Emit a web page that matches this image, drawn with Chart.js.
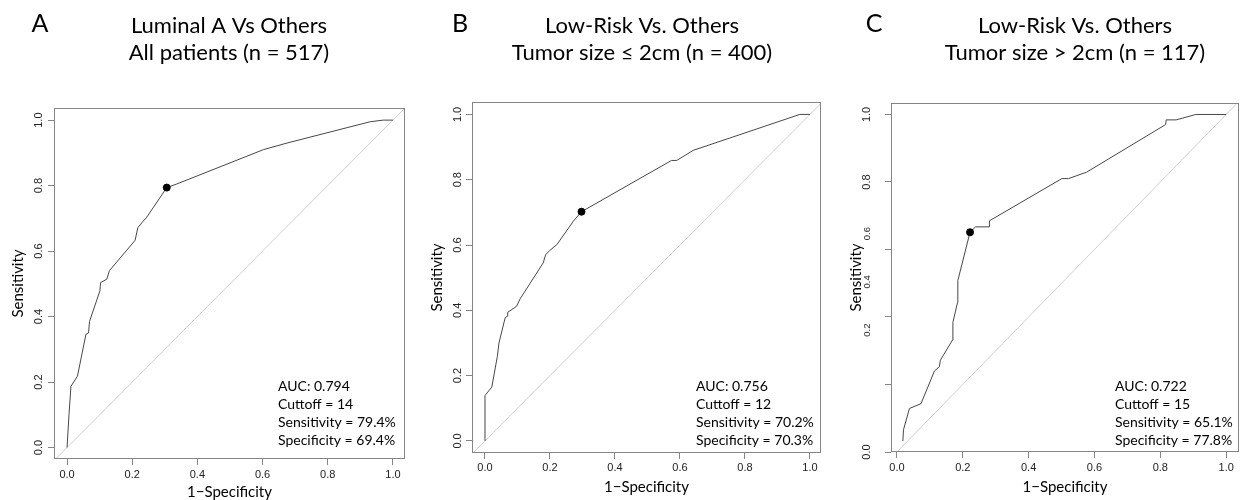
<!DOCTYPE html>
<html>
<head>
<meta charset="utf-8">
<script src="https://cdn.jsdelivr.net/npm/chart.js@4.4.1/dist/chart.umd.min.js"></script>
<style>
  html, body { margin: 0; padding: 0; background: #fff; }
  body { width: 1244px; height: 500px; position: relative; overflow: hidden; }
  canvas { position: absolute; top: 0; }
</style>
</head>
<body>
<canvas id="panelA" style="left:0px" width="412" height="500"></canvas>
<canvas id="panelB" style="left:412px" width="416" height="500"></canvas>
<canvas id="panelC" style="left:828px" width="416" height="500"></canvas>
<script>
// ---- data (1 - specificity, sensitivity) ----
const aFpr = [0, 0.006, 0.012, 0.032, 0.058, 0.066, 0.069, 0.101, 0.103, 0.122, 0.13, 0.209, 0.217, 0.229, 0.245, 0.306, 0.337, 0.603, 0.675, 0.93, 0.97, 1.0];
const aTpr = [0, 0.10, 0.187, 0.218, 0.346, 0.35, 0.385, 0.479, 0.504, 0.514, 0.54, 0.633, 0.671, 0.686, 0.704, 0.794, 0.805, 0.910, 0.93, 0.995, 1.0, 1.0];
const aCut = [0.306, 0.794];

const bFpr = [0, 0, 0.021, 0.038, 0.043, 0.062, 0.069, 0.07, 0.097, 0.108, 0.179, 0.187, 0.2, 0.221, 0.272, 0.297, 0.574, 0.59, 0.641, 0.969, 1.0];
const bTpr = [0, 0.139, 0.165, 0.259, 0.30, 0.377, 0.382, 0.394, 0.412, 0.435, 0.545, 0.571, 0.584, 0.601, 0.673, 0.702, 0.859, 0.859, 0.89, 1.0, 1.0];
const bCut = [0.297, 0.702];

const cFpr = [0.018, 0.02, 0.038, 0.073, 0.114, 0.129, 0.132, 0.169, 0.17, 0.184, 0.185, 0.222, 0.239, 0.28, 0.281, 0.501, 0.521, 0.576, 0.816, 0.818, 0.848, 0.908, 1.0];
const cTpr = [0.032, 0.066, 0.129, 0.143, 0.24, 0.253, 0.272, 0.332, 0.384, 0.443, 0.508, 0.651, 0.667, 0.667, 0.685, 0.81, 0.81, 0.829, 0.97, 0.984, 0.984, 1.0, 1.0];
const cCut = [0.222, 0.651];

// reference diagonal
const chanceX = [-0.1, 1.1];
const chanceY = [-0.1, 1.1];

const tickVals = [0, 0.2, 0.4, 0.6, 0.8, 1.0];
// panel C's y labels sit off their tick marks in the original
const cYLabelAt = [0, 0.361, 0.504, 0.647, 0.8, 1.0];
const cYLabels = ['0.0', '0.2', '0.4', '0.6', '0.8', '1.0'];

const titlesA = ['Luminal A Vs Others', 'All patients (n = 517)'];
const titlesB = ['Low-Risk Vs. Others', 'Tumor size \u2264 2cm (n = 400)'];
const titlesC = ['Low-Risk Vs. Others', 'Tumor size > 2cm (n = 117)'];
const statsA = ['AUC: 0.794', 'Cuttoff = 14', 'Sensitivity = 79.4%', 'Specificity = 69.4%'];
const statsB = ['AUC: 0.756', 'Cuttoff = 12', 'Sensitivity = 70.2%', 'Specificity = 70.3%'];
const statsC = ['AUC: 0.722', 'Cuttoff = 15', 'Sensitivity = 65.1%', 'Specificity = 77.8%'];

var boxColor = '#858585';
var curveColor = '#474747';
var textFont = 'Lato, "Open Sans", sans-serif';
var tickFont = '"Liberation Sans", Arial, sans-serif';

// box, panel letter, two-line title and the stats block
const panelDecor = {
  id: 'panelDecor',
  afterDraw(chart, args, o) {
    const {ctx, chartArea: ca} = chart;
    ctx.save();
    ctx.strokeStyle = boxColor;
    ctx.lineWidth = 1;
    ctx.strokeRect(Math.round(ca.left) + 0.5, Math.round(ca.top) + 0.5,
                   Math.round(ca.width) - 1, Math.round(ca.height) - 1);

    ctx.fillStyle = '#000';
    ctx.textBaseline = 'middle';
    ctx.textAlign = 'center';
    ctx.font = '25px ' + textFont;
    ctx.fillText(o.letter, o.letterX, 24);
    ctx.font = '22px ' + textFont;
    o.title.forEach((t, i) => ctx.fillText(t, o.titleX, 26 + i * 27));

    ctx.textAlign = 'left';
    ctx.font = '14px ' + textFont;
    o.stats.forEach((t, i) => ctx.fillText(t, ca.left + 224, 386 + i * 18));
    ctx.restore();
  }
};

function fixedTicks(vals) {
  return function(scale) { scale.ticks = vals.map(v => ({value: v})); };
}

function rocPanel(id, fpr, tpr, cut, L) {
  const scales = {
    x: {
      type: 'linear', min: L.xMin, max: L.xMax,
      afterBuildTicks: fixedTicks(tickVals),
      afterFit: s => { s.height = L.xHeight; },
      border: {display: false},
      grid: {display: true, drawOnChartArea: false, drawTicks: true, tickLength: 6, color: boxColor},
      ticks: {
        color: '#222', padding: L.xTickPad, autoSkip: false, maxRotation: 0,
        font: {family: tickFont, size: 11},
        callback: v => v.toFixed(1)
      },
      title: {
        display: true, text: '1\u2212Specificity', color: '#000',
        font: {family: textFont, size: 15, lineHeight: 1},
        padding: {top: 0, bottom: L.xTitlePad}
      }
    },
    y: {
      type: 'linear', min: L.yMin, max: L.yMax, weight: 0,
      afterBuildTicks: fixedTicks(tickVals),
      afterFit: s => { s.width = L.yWidth; },
      border: {display: false},
      grid: {display: true, drawOnChartArea: false, drawTicks: true, tickLength: 6, color: boxColor},
      ticks: {
        display: !L.splitLabels,
        color: '#222', padding: L.yTickPad, autoSkip: false,
        minRotation: 90, maxRotation: 90, crossAlign: 'center',
        font: {family: tickFont, size: 11},
        callback: v => v.toFixed(1)
      },
      title: {
        display: !L.splitLabels, text: 'Sensitivity', color: '#000',
        font: {family: textFont, size: 15, lineHeight: 1},
        padding: {top: L.yTitlePad, bottom: 0}
      }
    }
  };
  if (L.splitLabels) {
    scales.y2 = {
      type: 'linear', axis: 'y', position: 'left', weight: 1,
      min: L.yMin, max: L.yMax,
      afterBuildTicks: fixedTicks(cYLabelAt),
      afterFit: s => { s.width = L.y2Width; },
      border: {display: false},
      grid: {display: false},
      ticks: {
        color: '#222', padding: L.yTickPad, autoSkip: false,
        minRotation: 90, maxRotation: 90, crossAlign: 'center',
        font: c => ({family: tickFont, size: (c.index >= 1 && c.index <= 3) ? 9.5 : 11}),
        callback: (v, i) => cYLabels[i]
      },
      title: {
        display: true, text: 'Sensitivity', color: '#000',
        font: {family: textFont, size: 15, lineHeight: 1},
        padding: {top: L.yTitlePad, bottom: 0}
      }
    };
  }

  return new Chart(document.getElementById(id), {
    type: 'scatter',
    data: {
      datasets: [
        {
          data: [{x: cut[0], y: cut[1]}],
          pointRadius: 3.5, pointBackgroundColor: '#000', pointBorderColor: '#000', showLine: false
        },
        {
          data: fpr.map((v, i) => ({x: v, y: tpr[i]})),
          showLine: true, borderColor: curveColor, borderWidth: 1, pointRadius: 0, tension: 0
        },
        {
          data: chanceX.map((v, i) => ({x: v, y: chanceY[i]})),
          showLine: true, borderColor: '#cfcfcf', borderWidth: 1, pointRadius: 0
        }
      ]
    },
    options: {
      responsive: false,
      animation: false,
      events: [],
      layout: {padding: {top: L.padTop, right: L.padRight, left: 0, bottom: 0}},
      scales: scales,
      plugins: {
        legend: {display: false},
        tooltip: {enabled: false},
        panelDecor: {letter: L.letter, letterX: L.letterX, title: L.title, titleX: L.titleX, stats: L.stats}
      }
    },
    plugins: [panelDecor]
  });
}

const chartA = rocPanel('panelA', aFpr, aTpr, aCut, {
  xMin: -0.04, xMax: 1.037, yMin: -0.035, yMax: 1.037,
  padTop: 108, padRight: 7, xHeight: 41, yWidth: 54,
  xTickPad: 3.4, xTitlePad: 0.5, yTickPad: 1.4, yTitlePad: 10.5,
  letter: 'A', letterX: 40, title: titlesA, titleX: 229, stats: statsA
});

const chartB = rocPanel('panelB', bFpr, bTpr, bCut, {
  xMin: -0.04, xMax: 1.034, yMin: -0.037, yMax: 1.038,
  padTop: 102, padRight: 7, xHeight: 47, yWidth: 60,
  xTickPad: 2.4, xTitlePad: 5.5, yTickPad: 0.4, yTitlePad: 17.5,
  letter: 'B', letterX: 48, title: titlesB, titleX: 230, stats: statsB
});

const chartC = rocPanel('panelC', cFpr, cTpr, cCut, {
  xMin: -0.018, xMax: 1.039, yMin: 0, yMax: 1.034,
  padTop: 103, padRight: 2, xHeight: 48, yWidth: 6, y2Width: 57, splitLabels: true,
  xTickPad: 3.4, xTitlePad: 5.5, yTickPad: 2.4, yTitlePad: 20.5,
  letter: 'C', letterX: 46, title: titlesC, titleX: 247, stats: statsC
});
</script>
</body>
</html>
